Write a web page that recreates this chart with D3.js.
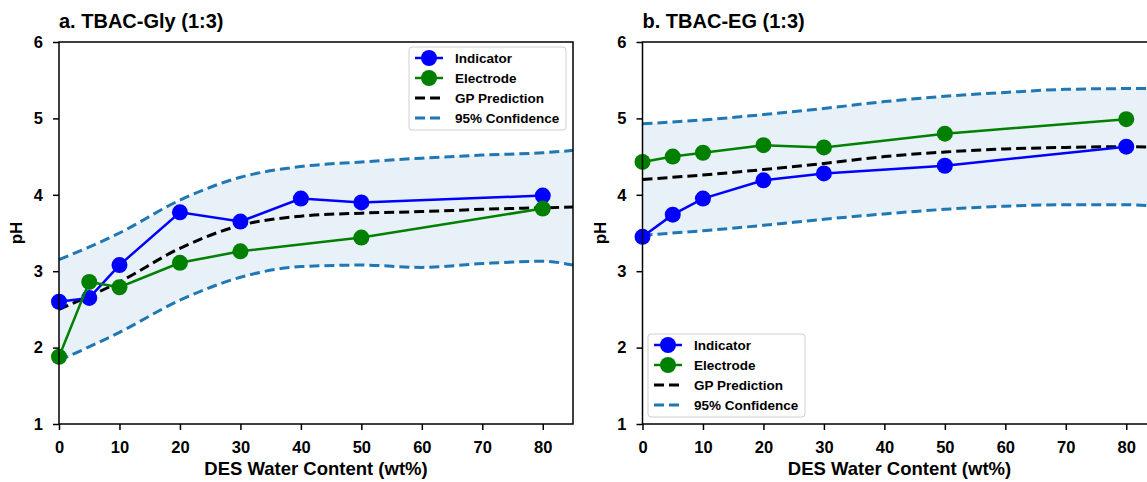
<!DOCTYPE html>
<html><head><meta charset="utf-8">
<script src="https://cdn.jsdelivr.net/npm/d3@7"></script>
<style>body{margin:0;background:#fff}svg{display:block;font-family:"Liberation Sans",Arial,sans-serif}</style>
</head><body><svg id="c" width="1147" height="482"></svg>
<script>
// ---- data ----
const gridX = [0, 10, 20, 30, 40, 50, 60, 70, 80, 85];
const xTicks = [0, 10, 20, 30, 40, 50, 60, 70, 80];
const yTicks = [1, 2, 3, 4, 5, 6];

const glyTitle = "a. TBAC-Gly (1:3)";
const glyIndicatorX = [0, 5, 10, 20, 30, 40, 50, 80];
const glyIndicator = [2.60, 2.65, 3.08, 3.77, 3.65, 3.95, 3.90, 3.99];
const glyElectrodeX = [0, 5, 10, 20, 30, 50, 80];
const glyElectrode = [1.88, 2.86, 2.79, 3.11, 3.26, 3.44, 3.82];
const glyGP    = [2.50, 2.86, 3.30, 3.60, 3.72, 3.76, 3.78, 3.81, 3.83, 3.84];
const glyUpper = [3.15, 3.50, 3.93, 4.23, 4.37, 4.43, 4.48, 4.52, 4.55, 4.58];
const glyLower = [1.83, 2.20, 2.62, 2.92, 3.06, 3.08, 3.05, 3.10, 3.13, 3.08];

const egTitle = "b. TBAC-EG (1:3)";
const egIndicatorX = [0, 5, 10, 20, 30, 50, 80];
const egIndicator = [3.45, 3.74, 3.95, 4.19, 4.28, 4.38, 4.63];
const egElectrodeX = [0, 5, 10, 20, 30, 50, 80];
const egElectrode = [4.43, 4.50, 4.55, 4.65, 4.62, 4.80, 4.99];
const egGP    = [4.20, 4.26, 4.33, 4.41, 4.50, 4.56, 4.60, 4.62, 4.63, 4.62];
const egUpper = [4.93, 4.98, 5.05, 5.13, 5.22, 5.29, 5.34, 5.38, 5.39, 5.39];
const egLower = [3.47, 3.53, 3.60, 3.68, 3.75, 3.81, 3.85, 3.87, 3.87, 3.85];

const legendLabels = ["Indicator", "Electrode", "GP Prediction", "95% Confidence"];

// ---- drawing ----
const svg = d3.select("#c");
const C = {ind: "#0000ff", ele: "#008000", gp: "#000000", ci: "#1f77b4", fill: "rgba(31,119,180,0.1)"};
const FONT = "Liberation Sans, Arial, sans-serif";

function panel(opt) {
  const x = d3.scaleLinear().domain([0, 85]).range([opt.left, opt.left + 514]);
  const y = d3.scaleLinear().domain([1, 6]).range([424, 42]);
  const g = svg.append("g");

  const area = d3.area().x(d => x(d[0])).y0(d => y(d[1])).y1(d => y(d[2])).curve(d3.curveMonotoneX);
  g.append("path").datum(gridX.map((v, i) => [v, opt.lower[i], opt.upper[i]]))
    .attr("d", area).attr("fill", C.fill);

  const line = d3.line().x(d => x(d[0])).y(d => y(d[1]));
  const smooth = d3.line().x(d => x(d[0])).y(d => y(d[1])).curve(d3.curveMonotoneX);
  [opt.upper, opt.lower].forEach(arr => {
    g.append("path").datum(gridX.map((v, i) => [v, arr[i]])).attr("d", smooth)
      .attr("fill", "none").attr("stroke", C.ci).attr("stroke-width", 3).attr("stroke-dasharray", "10,5");
  });
  g.append("path").datum(gridX.map((v, i) => [v, opt.gp[i]])).attr("d", smooth)
    .attr("fill", "none").attr("stroke", C.gp).attr("stroke-width", 3).attr("stroke-dasharray", "10,5");

  [[opt.indX, opt.ind, C.ind], [opt.eleX, opt.ele, C.ele]].forEach(([xs, ys, col]) => {
    const d = xs.map((v, i) => [v, ys[i]]);
    g.append("path").datum(d).attr("d", line).attr("fill", "none").attr("stroke", col).attr("stroke-width", 2.5);
    g.selectAll(null).data(d).enter().append("circle")
      .attr("cx", p => x(p[0])).attr("cy", p => y(p[1])).attr("r", 8).attr("fill", col);
  });

  // frame
  g.append("rect").attr("x", x(0)).attr("y", y(6)).attr("width", x(85) - x(0)).attr("height", y(1) - y(6))
    .attr("fill", "none").attr("stroke", "#000").attr("stroke-width", 1.5);

  const xa = g.append("g").attr("transform", `translate(0,${y(1)})`)
    .call(d3.axisBottom(x).tickValues(xTicks).tickSize(6).tickPadding(11).tickFormat(d3.format("d")));
  const ya = g.append("g").attr("transform", `translate(${x(0)},0)`)
    .call(d3.axisLeft(y).tickValues(yTicks).tickSize(6).tickPadding(10).tickFormat(d3.format("d")));
  [xa, ya].forEach(a => {
    a.select(".domain").remove();
    a.selectAll("line").attr("stroke", "#000").attr("stroke-width", 1.5);
    a.selectAll("text").attr("font-size", 16.5).attr("font-weight", "bold").attr("fill", "#000")
      .attr("font-family", FONT);
  });

  g.append("text").attr("x", x(0)).attr("y", 28).text(opt.title)
    .attr("font-size", 20).attr("font-weight", "bold");
  g.append("text").attr("x", (x(0) + opt.left + 514) / 2).attr("y", 475).attr("text-anchor", "middle")
    .text("DES Water Content (wt%)").attr("font-size", 18.5).attr("font-weight", "bold");
  g.append("text").attr("transform", `translate(${x(0) - 37},${(y(1) + y(6)) / 2}) rotate(-90)`)
    .attr("text-anchor", "middle").text("pH").attr("font-size", 17).attr("font-weight", "bold");

  // legend
  const L = g.append("g").attr("transform", `translate(${opt.lx},${opt.ly})`);
  L.append("rect").attr("width", 157).attr("height", 83).attr("rx", 3)
    .attr("fill", "rgba(255,255,255,0.8)").attr("stroke", "#d0d0d0").attr("stroke-width", 1);
  legendLabels.forEach((lab, i) => {
    const yy = 11 + i * 20;
    const col = [C.ind, C.ele, C.gp, C.ci][i];
    const ln = L.append("line").attr("x1", 6).attr("x2", 34).attr("y1", yy).attr("y2", yy)
      .attr("stroke", col).attr("stroke-width", i < 2 ? 2.5 : 3);
    if (i >= 2) ln.attr("stroke-dasharray", "10,5");
    if (i < 2) L.append("circle").attr("cx", 20).attr("cy", yy).attr("r", 8).attr("fill", col);
    L.append("text").attr("x", 46).attr("y", yy + 5).text(lab).attr("font-size", 13.5).attr("font-weight", "bold");
  });
}

panel({left: 59, title: glyTitle, indX: glyIndicatorX, ind: glyIndicator, eleX: glyElectrodeX, ele: glyElectrode,
  gp: glyGP, upper: glyUpper, lower: glyLower, lx: 409, ly: 47});
panel({left: 642.5, title: egTitle, indX: egIndicatorX, ind: egIndicator, eleX: egElectrodeX, ele: egElectrode,
  gp: egGP, upper: egUpper, lower: egLower, lx: 648, ly: 334});
</script></body></html>
